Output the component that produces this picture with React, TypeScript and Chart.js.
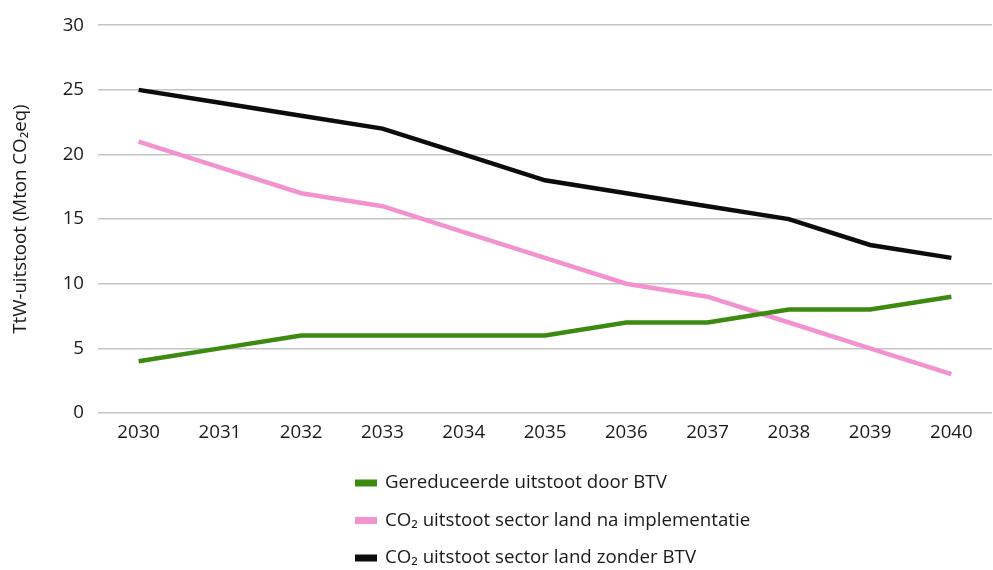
import React, { useEffect, useRef } from "react";
import { Chart, registerables } from "chart.js";

Chart.register(...registerables);

const years = ["2030", "2031", "2032", "2033", "2034", "2035", "2036", "2037", "2038", "2039", "2040"];
const reducedByBtv = [4, 5, 6, 6, 6, 6, 7, 7, 8, 8, 9];
const co2AfterImplementation = [21, 19, 17, 16, 14, 12, 10, 9, 7, 5, 3];
const co2WithoutBtv = [25, 24, 23, 22, 20, 18, 17, 16, 15, 13, 12];

const seriesLabels = [
  "Gereduceerde uitstoot door BTV",
  "CO₂ uitstoot sector land na implementatie",
  "CO₂ uitstoot sector land zonder BTV",
];
const seriesColors = ["#3d8a10", "#f293cf", "#0c0c0c"];

const FONT = "'Open Sans', Lato, sans-serif";
const FONT_SIZE = 18.7;
const TEXT_COLOR = "#1a1a1a";

// Vertical legend drawn under the plot, one series per row
const stackedLegend = {
  id: "stackedLegend",
  afterDraw(chart: any) {
    const { ctx, chartArea } = chart;
    ctx.save();
    ctx.font = `${FONT_SIZE}px ${FONT}`;
    ctx.textBaseline = "middle";
    const boxW = 22;
    const boxH = 7;
    const gap = 8;
    const x0 = chartArea.left + 257;
    const y0 = chartArea.bottom + 70;
    const rowH = 37.5;
    chart.data.datasets.forEach((d: any, i: number) => {
      const y = y0 + i * rowH;
      ctx.fillStyle = d.borderColor;
      ctx.fillRect(x0, y - boxH / 2, boxW, boxH);
      ctx.fillStyle = TEXT_COLOR;
      ctx.fillText(d.label, x0 + boxW + gap, y);
    });
    ctx.restore();
  },
};

export default function App() {
  const canvasRef = useRef<HTMLCanvasElement | null>(null);

  useEffect(() => {
    document.body.style.margin = "0";
    const canvas = canvasRef.current;
    if (!canvas) return;
    const values = [reducedByBtv, co2AfterImplementation, co2WithoutBtv];
    const chart = new Chart(canvas, {
      type: "line",
      data: {
        labels: years,
        datasets: values.map((v, i) => ({
          label: seriesLabels[i],
          data: v,
          borderColor: seriesColors[i],
          backgroundColor: seriesColors[i],
          borderWidth: 4.5,
          pointRadius: 0,
          tension: 0,
          fill: false,
        })),
      },
      options: {
        animation: false,
        responsive: false,
        maintainAspectRatio: false,
        layout: { padding: { top: 24, right: 1, bottom: 117, left: 9 } },
        plugins: {
          legend: { display: false },
          tooltip: { enabled: false },
        },
        scales: {
          x: {
            offset: true,
            grid: { display: false, drawTicks: false },
            border: { display: false },
            ticks: { color: TEXT_COLOR, font: { family: FONT, size: FONT_SIZE }, padding: 8 },
            afterFit: (s: any) => {
              s.height = 40;
            },
          },
          y: {
            min: 0,
            max: 30,
            ticks: { stepSize: 5, color: TEXT_COLOR, font: { family: FONT, size: FONT_SIZE }, padding: 14 },
            grid: { color: "#c4c4c4", lineWidth: 1.5, drawTicks: false },
            border: { display: false },
            title: {
              display: true,
              text: "TtW-uitstoot (Mton CO₂eq)",
              color: TEXT_COLOR,
              font: { family: FONT, size: FONT_SIZE },
              padding: { top: 0, bottom: 0 },
            },
            afterFit: (s: any) => {
              s.width = 89;
            },
          },
        },
      },
      plugins: [stackedLegend],
    });
    return () => chart.destroy();
  }, []);

  return (
    <div style={{ width: 993, height: 570 }}>
      <canvas ref={canvasRef} width={993} height={570} style={{ display: "block" }} />
    </div>
  );
}
